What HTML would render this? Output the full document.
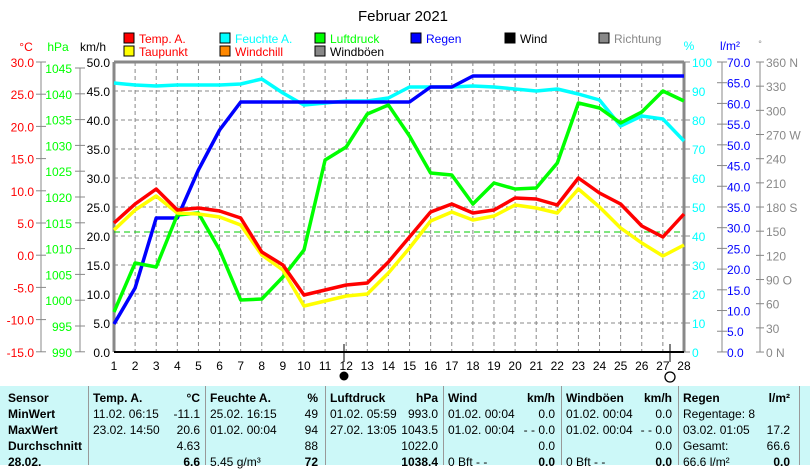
<!DOCTYPE html><html><head><meta charset="utf-8"><style>
body{margin:0;width:810px;height:465px;overflow:hidden;background:#fff;font-family:"Liberation Sans",sans-serif}
#t{position:absolute;left:0;top:386px;width:810px;height:79px;background:#ccf8f8}
.c{position:absolute;font-size:12px;white-space:nowrap}
.b{font-weight:bold}
.sep{position:absolute;top:0;width:1px;height:79px;background:#999}
</style></head><body>
<svg id="s" width="810" height="386" style="position:absolute;left:0;top:0" font-family="Liberation Sans, sans-serif" font-size="12"></svg>
<div id="t"></div>
<script>
var s=document.getElementById('s'),h='';
function T(x,y,t,c,a,fs){h+='<text x="'+x+'" y="'+y+'" fill="'+c+'" text-anchor="'+(a||'start')+'"'+(fs?' font-size="'+fs+'"':'')+'>'+t+'</text>';}
function L(x1,y1,x2,y2,c,w,d){h+='<line x1="'+x1+'" y1="'+y1+'" x2="'+x2+'" y2="'+y2+'" stroke="'+c+'" stroke-width="'+(w||1)+'"'+(d?' stroke-dasharray="'+d+'"':'')+'/>';}
T(403,21,'Februar 2021','#000','middle',15);
// legend
var lg=[[124,'#f00','Temp. A.','#f00'],[220,'#0ff','Feuchte A.','#0ff'],[315,'#0f0','Luftdruck','#0f0'],[411,'#00f','Regen','#00f'],[505,'#000','Wind','#000'],[599,'#888','Richtung','#888']];
lg.forEach(function(l){h+='<rect x="'+l[0]+'" y="33" width="10" height="10" fill="'+l[1]+'" stroke="#000"/>';T(l[0]+15,43,l[2],l[3]);});
[[124,'#ff0','Taupunkt','#f00'],[220,'#f80','Windchill','#f00'],[315,'#888','Windböen','#000']].forEach(function(l){h+='<rect x="'+l[0]+'" y="46" width="10" height="10" fill="'+l[1]+'" stroke="#000"/>';T(l[0]+15,56,l[2],l[3]);});
T(26,51,'°C','#f00','middle');T(58,51,'hPa','#0f0','middle');T(93,51,'km/h','#000','middle');
T(689,50,'%','#0ff','middle');T(730,50,'l/m²','#00f','middle');T(760,47,'°','#888','middle',9);
var X0=114,DX=21.11,Y0=62,Y1=352;
// grid
for(var i=1;i<=27;i++)L(X0+i*DX,Y0,X0+i*DX,Y1,'#888',1,'4,3');
for(var k=1;k<10;k++)L(X0,Y0+k*29,684,Y0+k*29,'#888',1,'4,3');
L(X0,Y0,684,Y0,'#888',3);L(684,Y0,684,Y1,'#888',3);L(X0,Y0,X0,Y1,'#888',3);
L(X0,Y1,684,Y1,'#000',2);
for(i=0;i<28;i++){T(X0+i*DX,370,i+1,'#000','middle');}
L(344,344,344,362,'#000');L(670,344,670,362,'#000');
h+='<circle cx="344" cy="376" r="4.5" fill="#000"/><circle cx="670" cy="377" r="5" fill="none" stroke="#000" stroke-width="1.3"/>';
// km/h
for(k=0;k<=10;k++){var y=Y1-k*29;T(110,y+5,(k*5).toFixed(1),'#000','end');}
// °C
L(41,Y0,41,Y1,'#888');
for(k=0;k<=9;k++){y=Y0+k*32.2;L(36,y,46,y,'#888');T(34,y+5,(30-5*k).toFixed(1),'#f00','end');}
L(80,68,80,Y1,'#888');
for(k=0;k<=11;k++){y=68+k*25.8;L(75,y,85,y,'#888');T(72,y+5,1045-5*k,'#0f0','end');}
for(k=0;k<=10;k++){y=Y0+k*29;L(684,y,690,y,'#888');T(692,y+5,100-10*k,'#0ff');}
L(722,Y0,722,Y1,'#888');
for(k=0;k<=14;k++){y=Y0+k*20.71;L(717,y,727,y,'#888');T(727,y+5,(70-5*k).toFixed(1),'#00f');}
L(760,Y0,760,Y1,'#888');
for(k=0;k<=12;k++){y=Y0+k*24.17;L(756,y,764,y,'#888');var v=360-30*k;T(766,y+5,v+(v==360?' N':v==270?' W':v==180?' S':v==90?' O':v==0?' N':''),'#888');}
L(X0,232,684,232,'#0c0',1,'6,4');
function P(a,c){var p=a.map(function(v,i){return (X0+i*DX).toFixed(1)+','+v}).join(' ');h+='<polyline points="'+p+'" fill="none" stroke="'+c+'" stroke-width="3.5" stroke-linejoin="round"/>';}
P([83,85,86,85,85,85,84,79,93,105,103,101,101,98,87,87,87,86,87,89,91,89,94,100,126,116,119,141],'#0ff');
P([324,288,218,218,170,130,102,102,102,102,102,102,102,102,102,87,87,76,76,76,76,76,76,76,76,76,76,76],'#00f');
P([312,263,267,215,213,250,300,299,277,250,160,147,114,105,136,173,175,204,183,189,188,163,103,108,123,112,91,101],'#0f0');
P([230,210,196,213,214,217,225,255,270,306,301,296,294,273,248,221,212,220,216,205,208,213,189,207,228,243,256,245],'#ff0');
P([223,204,189,210,208,211,218,252,265,295,290,285,283,262,237,212,204,213,210,198,199,205,178,193,204,226,237,214],'#f00');
s.innerHTML=h;
var t=document.getElementById('t'),g='';
[88,205,325,443,561,678,799].forEach(function(x){g+='<div class="sep" style="left:'+x+'px"></div>'});
function C(x,y,txt,b,r){g+='<div class="c'+(b?' b':'')+'" style="'+(r?'right:'+(810-x):'left:'+x)+'px;top:'+y+'px">'+txt+'</div>';}
var rows=[5,21,37,53,69];
C(8,rows[0],'Sensor',1);C(8,rows[1],'MinWert',1);C(8,rows[2],'MaxWert',1);C(8,rows[3],'Durchschnitt',1);C(8,rows[4],'28.02.',1);
var cols=[[93,200,'Temp. A.','°C',['11.02.  06:15','23.02.  14:50','',''],['-11.1','20.6','4.63','6.6']],
[210,318,'Feuchte A.','%',['25.02.  16:15','01.02.  00:04','','5.45 g/m³'],['49','94','88','72']],
[330,438,'Luftdruck','hPa',['01.02.  05:59','27.02.  13:05','',''],['993.0','1043.5','1022.0','1038.4']],
[448,555,'Wind','km/h',['01.02.  00:04','01.02.  00:04','','0 Bft - -'],['0.0','- - 0.0','0.0','0.0']],
[566,672,'Windböen','km/h',['01.02.  00:04','01.02.  00:04','','0 Bft - -'],['0.0','- - 0.0','0.0','0.0']],
[683,790,'Regen','l/m²',['Regentage: 8','03.02.  01:05','Gesamt:','66.6 l/m²'],['','17.2','66.6','0.0']]];
cols.forEach(function(c){C(c[0],rows[0],c[2],1);C(c[1],rows[0],c[3],1,1);for(var i=0;i<4;i++){C(c[0],rows[i+1],c[4][i]);C(c[1],rows[i+1],c[5][i],i==3,1);}});
t.innerHTML=g;
</script></body></html>
